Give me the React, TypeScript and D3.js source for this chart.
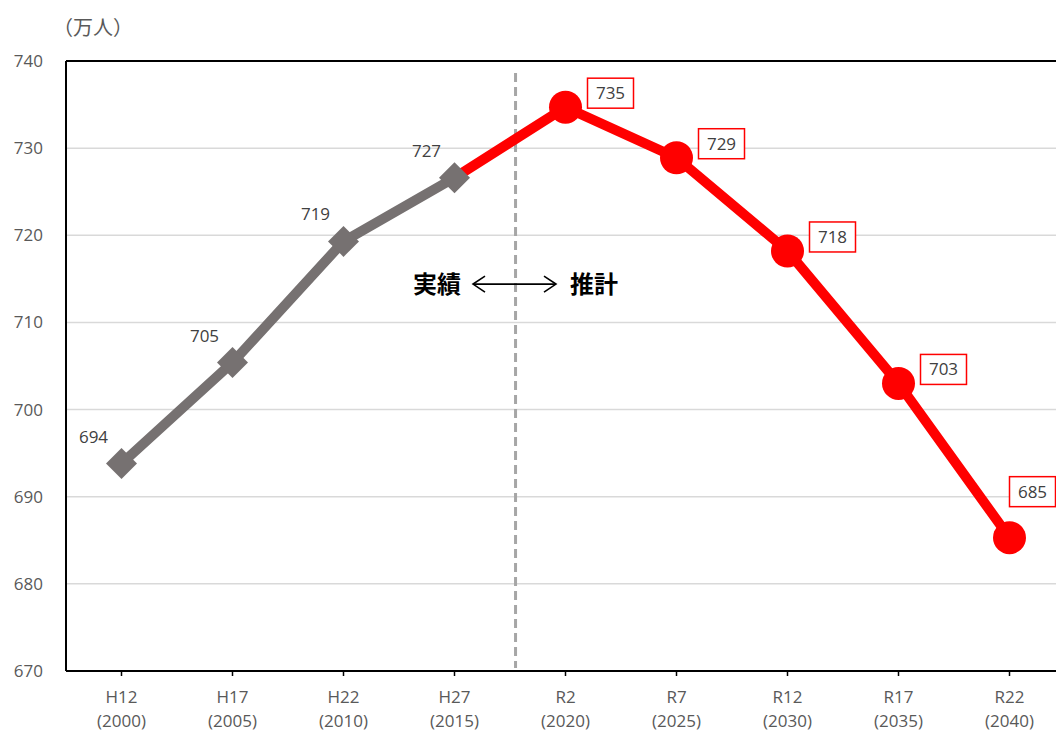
import React from "react";
import * as d3 from "d3";

// Population (万人): actual H12–H27, projection R2–R22
const categories = ["H12", "H17", "H22", "H27", "R2", "R7", "R12", "R17", "R22"];
const years = ["2000", "2005", "2010", "2015", "2020", "2025", "2030", "2035", "2040"];
const population = [693.8, 705.4, 719.3, 726.6, 734.7, 728.9, 718.2, 703.0, 685.3];
const isProjection = [false, false, false, false, true, true, true, true, true];
const labelPlacement = ["left", "left", "left", "left", "right", "right", "right", "right", "above"];
const yTicks = [670, 680, 690, 700, 710, 720, 730, 740];

const W = 1056;
const H = 733;
const margin = { left: 66, top: 61, right: -9, bottom: 62 };

const GRAY = "#767171";
const RED = "#FF0000";
const TEXT = "#595959";
const LABEL = "#404040";
const NUM_FONT = "'Open Sans', 'Noto Sans', sans-serif";
const JP_FONT = "'Noto Sans CJK JP', sans-serif";

export default function App() {
  const x = d3
    .scaleBand<string>()
    .domain(categories)
    .range([margin.left, W - margin.right])
    .padding(0);
  const cx = (c: string) => (x(c) as number) + x.bandwidth() / 2;
  const y = d3.scaleLinear().domain([670, 740]).range([H - margin.bottom, margin.top]);

  const pts = categories.map((c, i) => ({
    c,
    year: years[i],
    v: population[i],
    proj: isProjection[i],
    place: labelPlacement[i],
    px: cx(c),
    py: y(population[i]),
  }));

  const line = d3
    .line<(typeof pts)[number]>()
    .x((d) => d.px)
    .y((d) => d.py);

  const lastActual = pts.filter((d) => !d.proj).length - 1;
  const actual = pts.slice(0, lastActual + 1);
  const projected = pts.slice(lastActual);

  const plotLeft = margin.left;
  const plotRight = W - margin.right;
  const plotTop = y(740);
  const plotBottom = y(670);

  const divideX = cx(categories[lastActual]) + x.bandwidth() * 0.55;
  const fmt = d3.format(".0f");
  const diamond = d3.symbol().type(d3.symbolSquare).size(480)();

  const annY = y(714.4);

  return (
    <svg
      width={W}
      height={H}
      style={{ position: "absolute", left: 0, top: 0, background: "#fff" }}
    >
      {/* unit */}
      <text x={53} y={35} fontFamily={JP_FONT} fontSize={20} fill={TEXT}>
        （万人）
      </text>

      {/* gridlines */}
      {yTicks
        .filter((t) => t !== 670 && t !== 740)
        .map((t) => (
          <line key={t} x1={plotLeft} x2={plotRight} y1={y(t)} y2={y(t)} stroke="#D9D9D9" strokeWidth={1.5} />
        ))}

      {/* plot frame */}
      <line x1={plotLeft} x2={plotRight} y1={plotTop} y2={plotTop} stroke="#000" strokeWidth={2} />
      <line x1={plotLeft} x2={plotLeft} y1={plotTop} y2={plotBottom} stroke="#000" strokeWidth={2} />
      <line x1={plotLeft} x2={plotRight} y1={plotBottom} y2={plotBottom} stroke="#000" strokeWidth={2} />

      {/* y tick labels */}
      {yTicks.map((t) => (
        <text key={t} x={43} y={y(t) + 6} textAnchor="end" fontFamily={NUM_FONT} fontSize={17} fill={TEXT}>
          {t}
        </text>
      ))}

      {/* x ticks and labels */}
      {pts.map((d) => (
        <g key={d.c}>
          <line x1={d.px} x2={d.px} y1={plotBottom} y2={plotBottom + 5} stroke="#000" strokeWidth={1.5} />
          <text x={d.px} y={plotBottom + 32} textAnchor="middle" fontFamily={NUM_FONT} fontSize={17} fill={TEXT}>
            {d.c}
          </text>
          <text x={d.px} y={plotBottom + 56} textAnchor="middle" fontFamily={NUM_FONT} fontSize={17} fill={TEXT}>
            ({d.year})
          </text>
        </g>
      ))}

      {/* actual / projection divider */}
      <line
        x1={divideX}
        x2={divideX}
        y1={plotTop + 12}
        y2={plotBottom - 3}
        stroke="#A6A6A6"
        strokeWidth={3}
        strokeDasharray="9 5"
      />

      {/* annotation */}
      <text x={437} y={annY + 9} textAnchor="middle" fontFamily={JP_FONT} fontSize={24} fontWeight={700} fill="#000">
        実績
      </text>
      <text x={594} y={annY + 9} textAnchor="middle" fontFamily={JP_FONT} fontSize={24} fontWeight={700} fill="#000">
        推計
      </text>
      <g stroke="#000" strokeWidth={1.6} fill="none">
        <line x1={473} x2={556} y1={annY} y2={annY} />
        <polyline points={`${485},${annY - 8} ${473},${annY} ${485},${annY + 8}`} />
        <polyline points={`${544},${annY - 8} ${556},${annY} ${544},${annY + 8}`} />
      </g>

      {/* series lines */}
      <path d={line(projected) || ""} fill="none" stroke={RED} strokeWidth={10} strokeLinejoin="round" />
      <path d={line(actual) || ""} fill="none" stroke={GRAY} strokeWidth={10} strokeLinejoin="miter" />

      {/* markers */}
      {pts.map((d) =>
        d.proj ? (
          <circle key={d.c} cx={d.px} cy={d.py} r={16.5} fill={RED} />
        ) : (
          <path key={d.c} d={diamond || ""} transform={`translate(${d.px},${d.py}) rotate(45)`} fill={GRAY} />
        )
      )}

      {/* value labels */}
      {pts.map((d) => {
        const txt = fmt(d.v);
        if (d.place === "left") {
          return (
            <text key={d.c} x={d.px - 28} y={d.py - 21} textAnchor="middle" fontFamily={NUM_FONT} fontSize={17} fill={LABEL}>
              {txt}
            </text>
          );
        }
        const lx = d.place === "right" ? d.px + 45 : d.px + 23;
        const ly = d.place === "right" ? d.py - 14 : d.py - 46;
        return (
          <g key={d.c}>
            <rect x={lx - 23} y={ly - 15} width={46} height={30} fill="#fff" stroke={RED} strokeWidth={1.5} />
            <text x={lx} y={ly + 6} textAnchor="middle" fontFamily={NUM_FONT} fontSize={17} fill={LABEL}>
              {txt}
            </text>
          </g>
        );
      })}
    </svg>
  );
}
